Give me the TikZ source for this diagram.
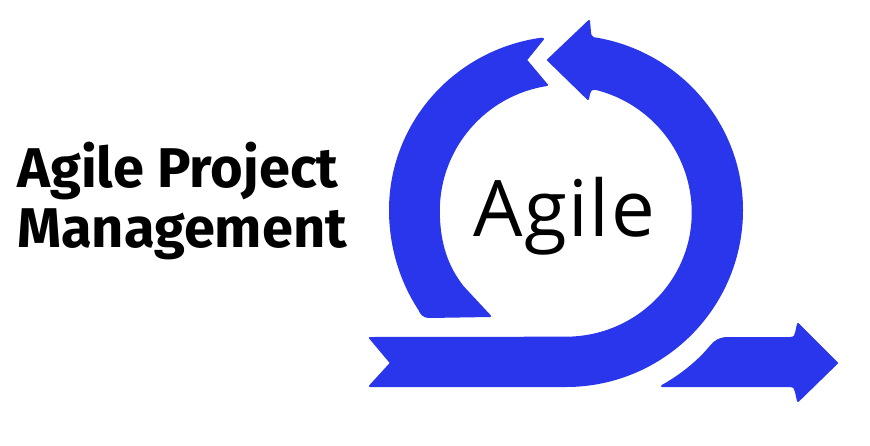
\documentclass[tikz,border=0pt]{standalone}
\usepackage{fontspec}
\setmainfont{Fira Sans}
\newfontfamily\circlefont[LetterSpace=2]{Open Sans}
\definecolor{agileblue}{RGB}{42,54,235}
\tikzset{
    band/.style={fill=agileblue, draw=agileblue, line width=2pt, line join=round},
    heading/.style={anchor=base west, font=\fontsize{56}{60}\selectfont\bfseries, inner sep=0pt},
    centerlabel/.style={anchor=base, font=\circlefont\fontsize{78}{90}\selectfont, inner sep=0pt},
}
\begin{document}
\begin{tikzpicture}[x=1pt, y=-1pt]
    \useasboundingbox (0,0) rectangle (870,445);
    % long band: tail, outer arc, head, inner arc
    \draw[band] (370,338) -- (391,363) -- (370,386) -- (566,386)
        arc[start angle=90, end angle=0, radius=176]
        arc[start angle=0, end angle=-81, x radius=176, y radius=174]
        .. controls (592,37) and (590,36) .. (590,32) -- (589,21)
        -- (548,60) -- (588,99) -- (589,94) .. controls (590,90) and (592,88) .. (595,88.7)
        arc[start angle=-76.5, end angle=0, radius=127.5]
        arc[start angle=0, end angle=90, x radius=127, y radius=125]
        -- cycle;
    % left arc
    \draw[band] (543,39) -- (526,60) -- (547,85)
        arc[start angle=-98.7, end angle=-180, radius=127.5]
        .. controls (439,245) and (448,268) .. (463,287)
        -- (490,316) -- (429,317) .. controls (424,317) and (421,314) .. (419,309)
        .. controls (400,280) and (390,245) .. (390,210)
        arc[start angle=180, end angle=262, x radius=176, y radius=173]
        -- cycle;
    % outgoing arrow
    \draw[band] (662,386) -- (790,386) .. controls (794,386) and (796,389) .. (796,392) -- (798,401)
        -- (837,363) -- (798,324) -- (796,333) .. controls (796,336) and (794,338) .. (790,338)
        -- (728,338) .. controls (720,338) and (715,341) .. (711,346)
        .. controls (698,362) and (680,376) .. (662,386) -- cycle;
    \node[heading] (headingtop) at (17,187) {Agile Project};
    \node[heading] (headingbottom) at (17,247) {Management};
    \node[centerlabel] (agilelabel) at (564,236) {Agile};
\end{tikzpicture}
\end{document}
